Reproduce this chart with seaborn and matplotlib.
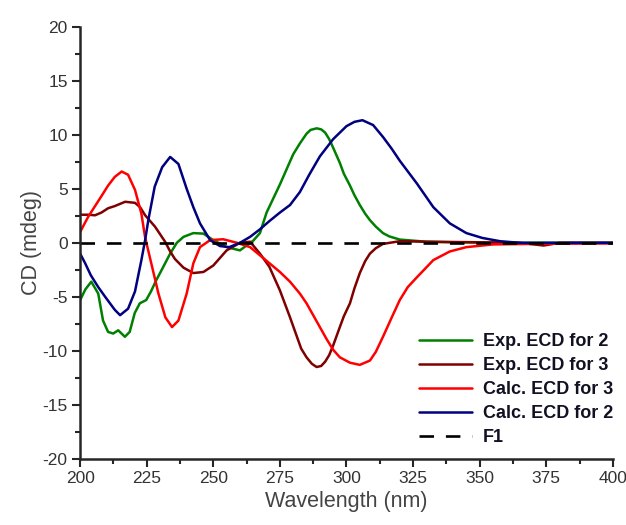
import numpy as np
import pandas as pd
import matplotlib
matplotlib.use("Agg")
import matplotlib.pyplot as plt
from matplotlib.ticker import MultipleLocator
import seaborn as sns

# Exp. ECD for 2 (green)
exp2_x = [200, 202, 204.2, 206.8, 208.6, 210.5, 212.4, 214.3, 216.8, 218.6, 220.5, 222.4,
          224.8, 226.6, 228.5, 230, 233.8, 236.3, 238.8, 242.5, 246.3, 250, 255, 260, 265,
          267.5, 270, 275, 280, 282.5, 285, 286.5, 288.8, 290.5, 292, 293.5, 295, 297.5,
          299, 301.3, 303, 305, 307, 308.8, 311, 313.7, 316, 320, 330, 340, 360, 380, 400]
exp2_y = [-5.3, -4.3, -3.6, -4.7, -7.2, -8.25, -8.4, -8.1, -8.7, -8.25, -6.5, -5.6,
          -5.3, -4.5, -3.5, -2.8, -1.0, 0.0, 0.55, 0.9, 0.85, 0.25, -0.4, -0.7, 0.2,
          0.9, 2.8, 5.4, 8.2, 9.2, 10.1, 10.45, 10.6, 10.5, 10.2, 9.6, 8.8, 7.4,
          6.4, 5.3, 4.4, 3.5, 2.7, 2.1, 1.5, 0.9, 0.6, 0.3, 0.1, 0.05, 0.0, 0.0, 0.0]

# Exp. ECD for 3 (dark red)
exp3_x = [200, 203, 205.6, 208, 210.5, 213, 216.9, 220.6, 222.5, 224.4, 228.1, 231.9,
          233.8, 235.6, 238.8, 242.5, 246.3, 250, 255, 260, 263.8, 267.5, 271, 275,
          278.8, 281.4, 283, 285, 287, 288.8, 290.5, 292, 293.5, 295, 297.5, 299, 301.3,
          303, 305, 307, 308.8, 311, 313.7, 320, 330, 350, 365, 374, 380, 400]
exp3_y = [2.6, 2.6, 2.55, 2.8, 3.2, 3.4, 3.8, 3.7, 3.3, 2.55, 1.5, 0.1,
          -0.8, -1.5, -2.3, -2.8, -2.7, -2.1, -0.7, 0.0, 0.1, -1.0, -2.2, -4.4,
          -6.9, -8.7, -9.8, -10.6, -11.2, -11.5, -11.4, -11.0, -10.4, -9.5, -7.8, -6.8, -5.6,
          -4.2, -2.8, -1.7, -1.0, -0.5, -0.1, 0.15, 0.1, 0.05, 0.0, -0.25, 0.0, 0.0]

# Calc. ECD for 3 (red)
calc3_x = [200, 203, 205.6, 208.2, 210.5, 213, 215.6, 218, 220.6, 223, 224.4, 227,
           229.4, 232, 234.5, 236.9, 240, 242.5, 245, 248.8, 253.7, 258.9, 263.8,
           268.7, 275, 278.8, 282.5, 285, 287.5, 290, 292.5, 295, 297.5, 301.3, 305,
           308.8, 311, 313.7, 317, 320, 323, 326.4, 332.6, 338.8, 345, 355, 370, 400]
calc3_y = [1.0, 2.4, 3.4, 4.4, 5.3, 6.1, 6.6, 6.3, 4.9, 2.7, 0.5, -2.2,
           -4.7, -6.9, -7.8, -7.2, -4.7, -1.9, -0.4, 0.25, 0.33, 0.0, -0.4,
           -1.4, -2.7, -3.6, -4.7, -5.6, -6.7, -7.8, -8.9, -9.9, -10.6, -11.1, -11.3,
           -10.9, -10.1, -8.7, -6.9, -5.3, -4.1, -3.2, -1.6, -0.8, -0.4, -0.15, -0.1, -0.05]

# Calc. ECD for 2 (navy)
calc2_x = [200, 201.9, 204, 206.8, 209.4, 213, 215, 218, 220.6, 223, 224.4, 225.6,
           228, 230.8, 233.8, 236.9, 240, 242.5, 245, 248.8, 252.5, 256, 260, 263.8,
           267.5, 271, 275, 278.8, 282.5, 286, 290, 295, 300, 303, 306, 310, 313.7, 317,
           320, 326.4, 332.6, 338.8, 345, 351, 357.6, 365, 380, 400]
calc2_y = [-1.0, -1.9, -3.0, -4.1, -5.0, -6.2, -6.7, -6.1, -4.5, -1.6, 0.25, 2.1,
           5.2, 7.0, 7.95, 7.3, 5.0, 3.3, 1.8, 0.25, -0.3, -0.4, 0.0, 0.55,
           1.25, 2.0, 2.8, 3.5, 4.7, 6.3, 8.0, 9.6, 10.8, 11.2, 11.35, 10.9, 9.8, 8.7,
           7.6, 5.5, 3.3, 1.8, 0.9, 0.45, 0.15, 0.0, 0.0, 0.0]

# F1 baseline
f1_x = [200, 400]
f1_y = [0, 0]

series = [
    ("Exp. ECD for 2", exp2_x, exp2_y, "#008000"),
    ("Exp. ECD for 3", exp3_x, exp3_y, "#800000"),
    ("Calc. ECD for 3", calc3_x, calc3_y, "#ff0000"),
    ("Calc. ECD for 2", calc2_x, calc2_y, "#000080"),
]

sns.set_style("ticks")
plt.rcParams["font.family"] = ["Liberation Sans", "DejaVu Sans"]
plt.rcParams["axes.unicode_minus"] = False

fig = plt.figure(figsize=(6.26, 5.25), dpi=100)
ax = fig.add_axes([0.128, 0.126, 0.851, 0.823])

for name, xs, ys, col in series:
    df = pd.DataFrame({"x": xs, "y": ys})
    sns.lineplot(data=df, x="x", y="y", ax=ax, color=col, lw=1.8, label=name)

df1 = pd.DataFrame({"x": f1_x, "y": f1_y})
sns.lineplot(data=df1, x="x", y="y", ax=ax, color="black", lw=1.9,
             linestyle=(0, (5.5, 4.5)), label="F1")

ax.set_xlim(200, 400)
ax.set_ylim(-20, 20)
ax.xaxis.set_major_locator(MultipleLocator(25))
ax.xaxis.set_minor_locator(MultipleLocator(12.5))
ax.yaxis.set_major_locator(MultipleLocator(5))
ax.yaxis.set_minor_locator(MultipleLocator(2.5))

sns.despine(ax=ax)
for s in ["left", "bottom"]:
    ax.spines[s].set_linewidth(1.8)
ax.tick_params(which="major", length=6, width=1.5, labelsize=12.5,
               labelcolor="#333333", pad=3)
ax.tick_params(which="minor", length=3.5, width=1.5)

ax.set_xlabel("Wavelength (nm)", fontsize=15.5, color="#444444", labelpad=3)
ax.set_ylabel("CD (mdeg)", fontsize=15.5, color="#444444", labelpad=0)

leg = ax.legend(loc="lower right", bbox_to_anchor=(1.0, 0.03), frameon=False,
                prop={"weight": "bold", "size": 13}, handlelength=2.9,
                handletextpad=0.6, labelspacing=0.38, borderaxespad=0.0,
                borderpad=0.0)
for t in leg.get_texts():
    t.set_color("#111122")

fig.savefig("out.png", dpi=100)
